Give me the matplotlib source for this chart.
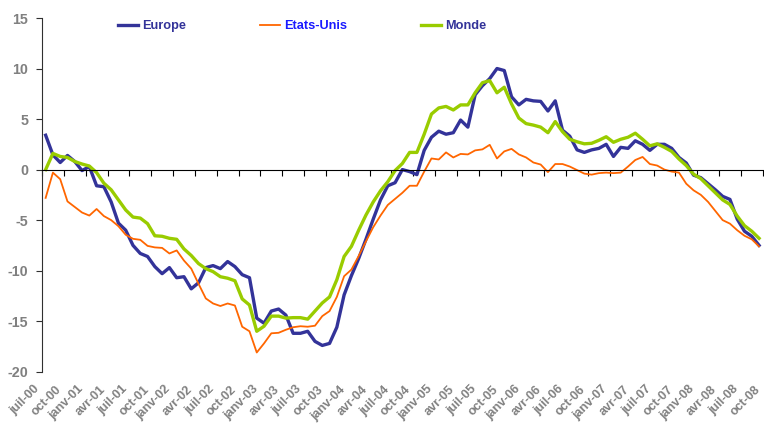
import numpy as np
import matplotlib.pyplot as plt

plt.rcParams['font.family'] = ['Liberation Sans', 'DejaVu Sans']

# monthly values, juil-00 .. sept-08
europe = [3.4, 1.45, 0.7, 1.4, 0.8, -0.1, 0.3, -1.6, -1.7, -3.2,
          -5.3, -6.0, -7.5, -8.3, -8.6, -9.6, -10.3, -9.7, -10.7, -10.6,
          -11.8, -11.2, -9.7, -9.5, -9.8, -9.1, -9.6, -10.4, -10.7, -14.7,
          -15.2, -14.0, -13.8, -14.4, -16.2, -16.2, -16.0, -17.0, -17.4, -17.2,
          -15.6, -12.4, -10.5, -8.8, -6.9, -4.9, -3.0, -1.6, -1.3, 0.0,
          -0.2, -0.5, 1.9, 3.2, 3.8, 3.5, 3.65, 4.9, 4.2, 7.4,
          8.3, 9.0, 10.0, 9.8, 7.2, 6.4, 6.95, 6.8, 6.75, 5.8,
          6.8, 3.9, 3.3, 1.95, 1.7, 1.95, 2.1, 2.5, 1.3, 2.2,
          2.1, 2.85, 2.5, 1.9, 2.5, 2.5, 2.1, 1.2, 0.65, -0.55,
          -0.8, -1.4, -2.0, -2.65, -2.95, -4.9, -6.1, -6.6, -7.5]

etats_unis = [-2.8, -0.3, -0.95, -3.15, -3.7, -4.25, -4.55, -3.9, -4.6, -5.0,
              -5.6, -6.45, -6.85, -6.95, -7.55, -7.7, -7.75, -8.3, -8.0, -9.0,
              -9.8, -11.3, -12.75, -13.25, -13.5, -13.25, -13.45, -15.55, -16.0, -18.1,
              -17.2, -16.2, -16.15, -15.85, -15.6, -15.5, -15.55, -15.45, -14.5, -14.0,
              -12.6, -10.55, -9.9, -8.55, -7.1, -5.7, -4.55, -3.5, -2.9, -2.3,
              -1.6, -1.6, -0.2, 1.1, 1.0, 1.7, 1.2, 1.55, 1.5, 1.9,
              2.0, 2.45, 1.1, 1.8, 2.05, 1.5, 1.2, 0.7, 0.5, -0.25,
              0.55, 0.55, 0.3, -0.05, -0.4, -0.5, -0.35, -0.3, -0.35, -0.3,
              0.3, 0.95, 1.25, 0.55, 0.4, 0.0, -0.2, -0.3, -1.4, -2.05,
              -2.5, -3.2, -4.1, -5.0, -5.35, -6.0, -6.55, -6.9, -7.6]

monde = [0.0, 1.6, 1.3, 1.2, 0.8, 0.55, 0.35, -0.3, -1.35, -2.0,
         -3.0, -4.0, -4.7, -4.8, -5.35, -6.55, -6.6, -6.8, -6.9, -7.85,
         -8.5, -9.3, -9.8, -10.1, -10.6, -10.75, -11.0, -12.8, -13.4, -16.0,
         -15.5, -14.5, -14.5, -14.7, -14.65, -14.65, -14.8, -14.0, -13.2, -12.6,
         -10.9, -8.6, -7.6, -6.0, -4.5, -3.2, -2.1, -1.2, -0.1, 0.6,
         1.7, 1.7, 3.5, 5.5, 6.1, 6.25, 5.9, 6.4, 6.4, 7.6,
         8.6, 8.8, 7.6, 8.15, 6.5, 5.1, 4.55, 4.4, 4.2, 3.65,
         4.75, 3.75, 3.0, 2.75, 2.55, 2.6, 2.9, 3.25, 2.7, 3.0,
         3.2, 3.6, 3.0, 2.35, 2.55, 2.2, 1.8, 1.05, 0.4, -0.45,
         -0.9, -1.6, -2.3, -3.0, -3.45, -4.6, -5.55, -6.1, -6.8]

quarter_labels = ['juil-00', 'oct-00', 'janv-01', 'avr-01', 'juil-01', 'oct-01',
                  'janv-02', 'avr-02', 'juil-02', 'oct-02', 'janv-03', 'avr-03',
                  'juil-03', 'oct-03', 'janv-04', 'avr-04', 'juil-04', 'oct-04',
                  'janv-05', 'avr-05', 'juil-05', 'oct-05', 'janv-06', 'avr-06',
                  'juil-06', 'oct-06', 'janv-07', 'avr-07', 'juil-07', 'oct-07',
                  'janv-08', 'avr-08', 'juil-08', 'oct-08']

months = np.arange(len(europe))
quarter_ticks = np.arange(len(quarter_labels)) * 3 - 0.5

fig = plt.figure(figsize=(7.64, 4.24), dpi=100)
ax = fig.add_axes([42 / 764, 1 - 371.7 / 424, 720.7 / 764, 353.7 / 424])

ax.plot(months, europe, color='#333399', lw=2.4, label='Europe')
ax.plot(months, etats_unis, color='#FF6600', lw=1.3, label='Etats-Unis')
ax.plot(months, monde, color='#99CC00', lw=2.4, label='Monde')

ax.set_xlim(-0.5, len(europe) - 0.5)
ax.set_ylim(-20, 15)

# spines: zero line carries the month ticks
ax.spines['top'].set_visible(False)
ax.spines['right'].set_visible(False)
ax.spines['bottom'].set_position(('data', 0))
ax.spines['bottom'].set_color('black')
ax.spines['left'].set_color('#303030')

ax.set_yticks(range(-20, 16, 5), [str(v) for v in range(-20, 16, 5)],
              fontsize=10.3, fontweight='bold', color='#808080')
ax.tick_params(axis='y', direction='out', length=4, color='#303030', pad=6)

ax.set_xticks(quarter_ticks)
ax.tick_params(axis='x', direction='out', length=4, color='black', labelbottom=False)

# labels sit under the plot, not on the zero line
sec = ax.secondary_xaxis('bottom')
sec.set_xticks(quarter_ticks, quarter_labels, rotation=45, ha='right', va='bottom',
               rotation_mode='anchor', fontsize=9, fontweight='bold', color='#808080')
sec.tick_params(length=0, pad=14.5)
sec.spines['bottom'].set_visible(False)

leg = ax.legend(loc='center left', bbox_to_anchor=(118 / 764, 1 - 26 / 424),
                bbox_transform=fig.transFigure, ncol=3, frameon=False,
                borderpad=0, borderaxespad=0, handlelength=1.56, handletextpad=0.31,
                columnspacing=5.8, prop={'weight': 'bold', 'size': 9.2})
for txt, c in zip(leg.get_texts(), ['#333399', '#1A1AFF', '#333399']):
    txt.set_color(c)

fig.savefig('out.png', dpi=100)
